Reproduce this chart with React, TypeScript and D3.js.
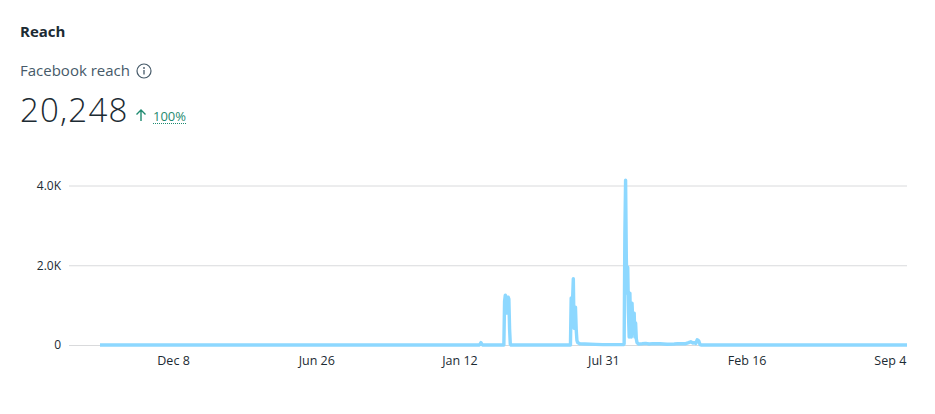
import { useEffect, useRef } from 'react';
import * as d3 from 'd3';

const firstTick = new Date(2022, 11, 8);

// days counted from firstTick
const reachDays = [
  -102, 428, 430, 432, 462, 463, 464, 465, 466, 467, 468, 469, 470, 471, 472,
  555, 556, 557, 558, 559, 560, 561, 562, 563, 564, 565, 568, 575, 590, 600,
  629, 630, 631, 632, 633, 634, 635, 636, 637, 638, 639, 640, 641, 642, 643, 644, 645, 646, 647, 648, 650,
  655, 660, 665, 670, 680, 690, 700, 705, 715, 720, 723, 726, 728, 730, 732, 734, 736, 738, 1025,
];
const reachValues = [
  0, 0, 60, 0, 0, 1100, 1250, 1200, 800, 1100, 1200, 1150, 400, 20, 0,
  0, 1180, 600, 1150, 1660, 420, 700, 950, 400, 120, 60, 30, 25, 15, 10,
  10, 30, 2800, 4130, 2200, 1300, 1950, 800, 200, 1300, 500, 200, 1050, 600, 300, 800, 200, 550, 150, 60, 25,
  30, 40, 25, 35, 30, 20, 25, 35, 30, 60, 80, 50, 60, 40, 130, 110, 10, 0, 0,
];

const xTickDates = [
  new Date(2022, 11, 8),
  new Date(2023, 5, 26),
  new Date(2024, 0, 12),
  new Date(2024, 6, 31),
  new Date(2025, 1, 16),
  new Date(2025, 8, 4),
];
const yTicks = [0, 2000, 4000];

const font = '"Open Sans", sans-serif';
const textColor = '#1c2b33';
const mutedColor = '#465a69';
const green = '#1f8a70';

export default function App() {
  const svgRef = useRef<SVGSVGElement>(null);

  useEffect(() => {
    if (!svgRef.current) return;
    const svg = d3.select(svgRef.current);
    svg.selectAll('*').remove();

    const points = reachDays.map((d, i) => ({
      date: d3.timeDay.offset(firstTick, d),
      value: reachValues[i],
    }));

    const xScale = d3
      .scaleTime()
      .domain(d3.extent(points, (d) => d.date) as [Date, Date])
      .range([100, 907]);
    const yScale = d3.scaleLinear().domain([0, 4000]).range([345, 185.5]);

    // grid + y labels
    const yAxis = svg
      .append('g')
      .attr('transform', 'translate(69,0)')
      .call(
        d3
          .axisLeft(yScale)
          .tickValues(yTicks)
          .tickSize(0)
          .tickPadding(8)
          .tickFormat((d) => (+d === 0 ? '0' : `${+d / 1000}.0K`)),
      );
    yAxis.select('.domain').remove();
    yAxis
      .selectAll('.tick line')
      .attr('x2', 838)
      .attr('stroke', '#d9dadc')
      .attr('stroke-width', 1);
    yAxis
      .selectAll('text')
      .attr('fill', textColor)
      .style('font-family', font)
      .style('font-size', '12px');

    // x labels
    const xAxis = svg
      .append('g')
      .attr('transform', 'translate(0,345)')
      .call(
        d3
          .axisBottom(xScale)
          .tickValues(xTickDates)
          .tickSize(0)
          .tickPadding(11)
          .tickFormat((d) => d3.timeFormat('%b %-d')(d as Date)),
      );
    xAxis.select('.domain').remove();
    xAxis
      .selectAll('text')
      .attr('fill', textColor)
      .style('font-family', font)
      .style('font-size', '12.5px');

    const line = d3
      .line<{ date: Date; value: number }>()
      .x((d) => xScale(d.date))
      .y((d) => yScale(d.value));

    svg
      .append('path')
      .datum(points)
      .attr('fill', 'none')
      .attr('stroke', '#8dd8ff')
      .attr('stroke-width', 3.4)
      .attr('stroke-linejoin', 'round')
      .attr('d', line);

    // header
    const header = svg.append('g').style('font-family', font);
    header
      .append('text')
      .attr('x', 20)
      .attr('y', 37)
      .attr('fill', textColor)
      .attr('font-size', 15)
      .attr('font-weight', 700)
      .text('Reach');
    header
      .append('text')
      .attr('x', 20)
      .attr('y', 76)
      .attr('fill', mutedColor)
      .attr('font-size', 15)
      .text('Facebook reach');
    const info = header.append('g').attr('transform', 'translate(144,71)');
    info.append('circle').attr('r', 7).attr('fill', 'none').attr('stroke', mutedColor).attr('stroke-width', 1.2);
    info.append('circle').attr('cy', -3).attr('r', 0.9).attr('fill', mutedColor);
    info
      .append('line')
      .attr('y1', -1)
      .attr('y2', 3.5)
      .attr('stroke', mutedColor)
      .attr('stroke-width', 1.3);
    header
      .append('text')
      .attr('x', 20)
      .attr('y', 122)
      .attr('fill', textColor)
      .attr('font-size', 33)
      .attr('font-weight', 300)
      .attr('letter-spacing', 1.2)
      .text('20,248');
    header
      .append('path')
      .attr('d', 'M141 121V110M136.5 114.5L141 110L145.5 114.5')
      .attr('fill', 'none')
      .attr('stroke', green)
      .attr('stroke-width', 1.4);
    header
      .append('text')
      .attr('x', 153)
      .attr('y', 121)
      .attr('fill', green)
      .attr('font-size', 13)
      .text('100%');
    header
      .append('line')
      .attr('x1', 153)
      .attr('x2', 186)
      .attr('y1', 123.5)
      .attr('y2', 123.5)
      .attr('stroke', green)
      .attr('stroke-width', 1)
      .attr('stroke-dasharray', '1 1');
  }, []);

  return (
    <svg
      ref={svgRef}
      width={935}
      height={414}
      style={{ position: 'absolute', left: 0, top: 0, background: '#fff' }}
    />
  );
}
